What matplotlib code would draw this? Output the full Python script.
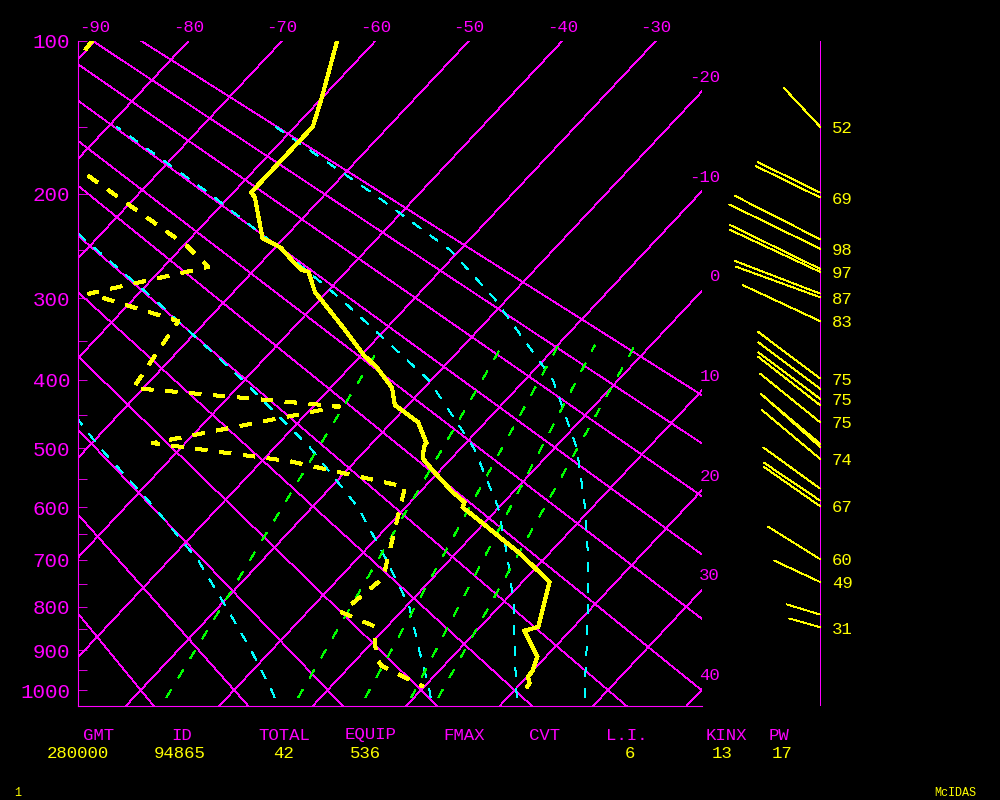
import numpy as np
import matplotlib
matplotlib.use('Agg')
import matplotlib.pyplot as plt

plt.rcParams['font.family'] = ['Liberation Mono', 'DejaVu Sans Mono']
plt.rcParams['lines.scale_dashes'] = False
plt.rcParams['lines.antialiased'] = False

MAGENTA = '#ff00ff'
YELLOW = '#ffff00'
CYAN = '#00ffff'
GREEN = '#00ff00'

# Stuve-type skewed diagram: vertical ~ p**kappa, isotherms skewed
KAPPA = 0.2857
SKEW = 18.77
P_TOP = 100
P_BOTTOM = 1042
X_LEFT, X_RIGHT = -91.82, -25.05


def yy(p):
    return np.asarray(p, dtype=float) ** KAPPA


def xx(t, p):
    return np.asarray(t, dtype=float) - SKEW * (yy(p) - yy(P_TOP))


# background lines
isotherms = list(range(-90, 50, 10))
thetas = list(range(-20, 100, 10))          # dry adiabats, deg C
p_major = [100, 200, 300, 400, 500, 600, 700, 800, 900, 1000]
p_minor = [150, 250, 350, 450, 550, 650, 750, 850, 950]

# saturated adiabats
ma_pres = [1020, 1000, 900, 800, 700, 600, 500, 400, 300, 250, 200, 150]
ma_a = [-4.9, -6.0, -12.2, -19.2, -27.0, -36.9, -48.6, -61.1, np.nan, np.nan, np.nan, np.nan]
ma_b = [11.8, 10.9, 5.8, 0.4, -6.8, -15.1, -26.1, -40.2, -58.0, -68.9, -81.4, np.nan]
ma_c = [21.0, 20.2, 16.0, 11.6, 6.2, -0.1, -8.6, -20.3, -38.0, -49.1, -62.4, -79.1]
ma_d = [28.3, 27.5, 23.7, 19.5, 14.8, 9.2, 2.4, -7.0, -21.5, -31.1, -44.9, -62.1]

# mixing ratio lines (temperature at bottom and top ends)
mr_pres = [1020, 355]
mr_bottom = [-16.5, -2.4, 4.8, 9.7, 12.6]
mr_top = [-28.9, -15.9, -9.9, -6.0, -1.7]

# sounding
t_pres = [100, 131, 150, 199, 203, 218, 239, 248, 262, 270, 272, 294, 299, 333,
          367, 384, 411, 435, 442, 460, 492, 498, 517, 536, 573, 591, 600, 633,
          661, 687, 746, 845, 854, 916, 951, 966, 982, 991]
t_temp = [-64.1, -60.1, -58.1, -58.1, -57.2, -55.1, -52.3, -49.4, -46.6, -44.9,
          -44.0, -41.2, -40.3, -34.8, -29.8, -27.0, -23.4, -21.4, -20.2, -17.2,
          -14.2, -14.1, -13.0, -10.8, -6.5, -4.2, -3.9, 0.3, 3.7, 6.8, 12.9,
          16.2, 15.1, 19.1, 20.0, 20.1, 20.9, 21.0]
td_pres = [100, 152, 246, 267, 295, 326, 411, 437, 492, 521, 564, 738, 812,
           843, 919, 938, 991]
td_temp = [-90.3, -88.8, -59.7, -55.2, -65.3, -53.0, -51.1, -27.2, -43.5,
           -27.0, -12.1, -5.3, -6.3, -1.5, 2.0, 3.3, 9.9]

# winds: pressure, direction, speed (kt), label
w_pres = [150, 199, 203, 240, 249, 269, 272, 295, 299, 326, 398, 412, 426, 435,
          460, 493, 498, 517, 567, 588, 598, 699, 746, 817, 846]
w_dir = [317, 296, 296, 297, 296, 296, 295, 291, 290, 295, 307, 307, 307, 308,
         309, 310, 312, 310, 306, 304, 305, 302, 295, 287, 286]
w_spd = [52, 67, 69, 93, 98, 97, 97, 89, 87, 83, 75, 75, 75, 76, 75, 75, 75, 74,
         68, 66, 67, 60, 49, 34, 31]
w_lab = ['52', '', '69', '', '98', '', '97', '', '87', '83', '75', '', '75', '',
         '75', '', '', '74', '', '', '67', '60', '49', '', '31']

head_labels = ['GMT', 'ID', 'TOTAL', 'EQUIP', 'FMAX', 'CVT', 'L.I.', 'KINX', 'PW']
head_values = ['280000', '94865', '42', '536', '', '', '6', '13', '17']
head_x = [99, 182, 284, 371, 464, 545, 627, 726, 779]
value_x = [78, 180, 284, 365, 464, 545, 630, 722, 782]

fig = plt.figure(figsize=(10, 8), dpi=100, facecolor='black')
ax = fig.add_axes([0.078, 0.1175, 0.624, 0.83125])
ax.set_facecolor('black')
ax.set_xlim(X_LEFT, X_RIGHT)
ax.set_ylim(yy(P_BOTTOM), yy(P_TOP))

# isotherms
for t in isotherms:
    ax.plot(xx([t, t], [P_TOP, 1050]), yy([P_TOP, 1050]), color=MAGENTA, lw=0.5)
    if t <= X_RIGHT:
        ax.annotate(str(t), xy=(t, yy(P_TOP)), xytext=(0, 10), textcoords='offset points',
                    color=MAGENTA, fontsize=12.5, ha='center', va='center',
                    annotation_clip=False)
    else:
        ycross = yy(P_TOP) + (t - X_RIGHT) / SKEW
        ax.annotate(str(t), xy=(X_RIGHT, ycross), xytext=(13, 10), textcoords='offset points',
                    color=MAGENTA, fontsize=12.5, ha='right', va='center',
                    annotation_clip=False)

# dry adiabats
p_line = np.linspace(P_TOP, 1050, 150)
for th in thetas:
    t = (th + 273.15) * (p_line / 1000.0) ** KAPPA - 273.15
    ax.plot(xx(t, p_line), yy(p_line), color=MAGENTA, lw=0.5)

# saturated adiabats
for ma in [ma_a, ma_b, ma_c, ma_d]:
    ax.plot(xx(ma, ma_pres), yy(ma_pres), color=CYAN, lw=0.6, ls=(0, (6.5, 8)))

# mixing ratio lines
for tb, tt in zip(mr_bottom, mr_top):
    ax.plot(xx([tb, tt], mr_pres), yy(mr_pres), color=GREEN, lw=0.6, ls=(0, (7, 9.5)))

# temperature and dewpoint
ax.plot(xx(t_temp, t_pres), yy(t_pres), color=YELLOW, lw=2.2, solid_joinstyle='miter')
ax.plot(xx(td_temp, td_pres), yy(td_pres), color=YELLOW, lw=2.2, ls=(0, (8, 9)))

# pressure axis
ax.set_xticks([])
ax.set_yticks(yy(p_major))
ax.set_yticklabels([str(p) for p in p_major])
ax.set_yticks(yy(p_minor), minor=True)
ax.tick_params(axis='y', which='both', direction='in', length=6.5, width=0.6,
               colors=MAGENTA, labelsize=15, pad=5.5)
for side in ['top', 'right']:
    ax.spines[side].set_visible(False)
for side in ['left', 'bottom']:
    ax.spines[side].set_color(MAGENTA)
    ax.spines[side].set_linewidth(0.8)

# wind column
axw = fig.add_axes([0.702, 0.1175, 0.298, 0.83125])
axw.set_xlim(-118, 180)
axw.set_ylim(ax.get_ylim())
axw.axis('off')
axw.plot([0, 0], yy([P_TOP, P_BOTTOM]), color=MAGENTA, lw=0.6)
kt_pt = 1.03 * 0.72
for p, d, s, lab in zip(w_pres, w_dir, w_spd, w_lab):
    dx = s * kt_pt * np.sin(np.radians(d))
    dy = s * kt_pt * np.cos(np.radians(d))
    axw.annotate('', xy=(0, yy(p)), xytext=(dx, dy), textcoords='offset points',
                 arrowprops=dict(arrowstyle='-', color=YELLOW, lw=0.6,
                                 shrinkA=0, shrinkB=0, antialiased=False))
    if lab:
        axw.annotate(lab, xy=(0, yy(p)), xytext=(8.6, -1.3), textcoords='offset points',
                     color=YELLOW, fontsize=12.5, ha='left', va='center')

# bottom table
for lab, x in zip(head_labels, head_x):
    fig.text(x / 1000, 1 - 735 / 800, lab, color=MAGENTA, fontsize=12.5,
             ha='center', va='center')
for val, x in zip(head_values, value_x):
    if val:
        fig.text(x / 1000, 1 - 754 / 800, val, color=YELLOW, fontsize=12.5,
                 ha='center', va='center')

fig.text(18 / 1000, 1 - 793 / 800, '1', color=YELLOW, fontsize=8.5, ha='center', va='center')
fig.text(955 / 1000, 1 - 793 / 800, 'McIDAS', color=YELLOW, fontsize=8.5,
         ha='center', va='center')

fig.savefig('out.png', dpi=100, facecolor='black')
